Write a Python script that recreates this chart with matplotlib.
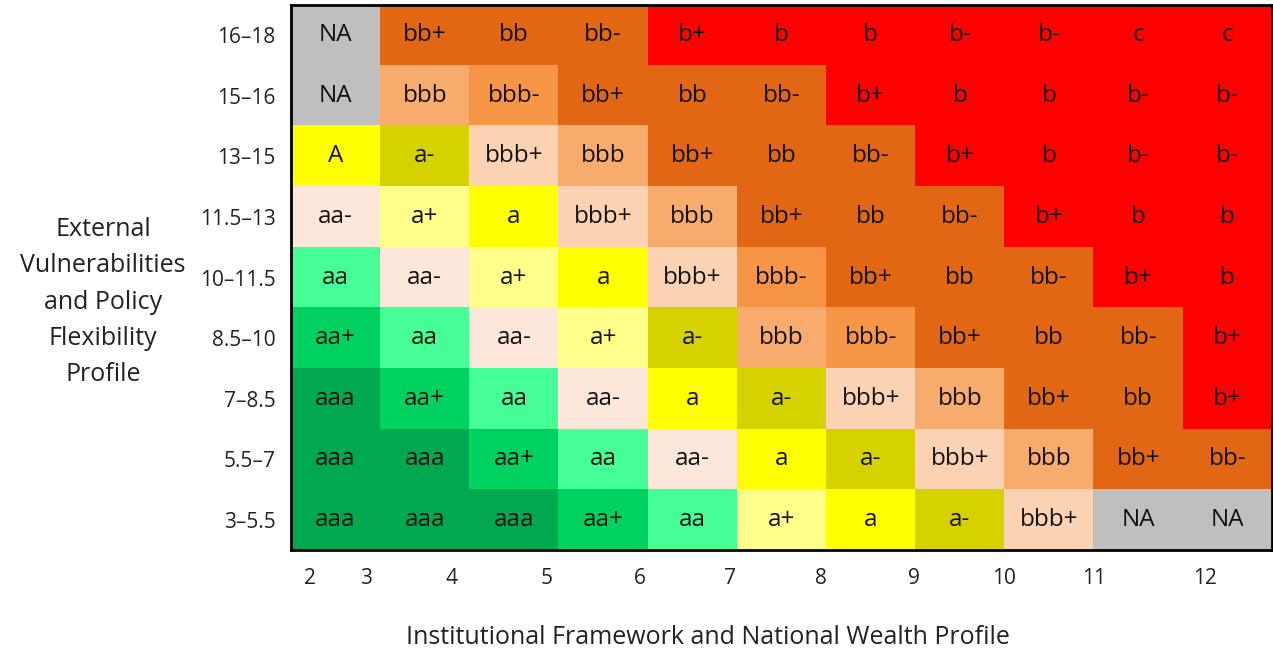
import numpy as np
import matplotlib
matplotlib.use("Agg")
import matplotlib.pyplot as plt
from matplotlib.colors import to_rgb

plt.rcParams['font.family'] = ['Open Sans', 'DejaVu Sans']

# rows from top (highest vulnerability) to bottom
row_labels = ['16–18', '15–16', '13–15', '11.5–13', '10–11.5',
              '8.5–10', '7–8.5', '5.5–7', '3–5.5']
x_tick_labels = ['2', '3', '4', '5', '6', '7', '8', '9', '10', '11', '12']
x_tick_pos = [0.21, 0.84, 1.80, 2.87, 3.91, 4.92, 5.94, 6.98, 7.99, 9.00, 10.25]

grades = [
    ['NA', 'bb+', 'bb', 'bb-', 'b+', 'b', 'b', 'b-', 'b-', 'c', 'c'],
    ['NA', 'bbb', 'bbb-', 'bb+', 'bb', 'bb-', 'b+', 'b', 'b', 'b-', 'b-'],
    ['A', 'a-', 'bbb+', 'bbb', 'bb+', 'bb', 'bb-', 'b+', 'b', 'b-', 'b-'],
    ['aa-', 'a+', 'a', 'bbb+', 'bbb', 'bb+', 'bb', 'bb-', 'b+', 'b', 'b'],
    ['aa', 'aa-', 'a+', 'a', 'bbb+', 'bbb-', 'bb+', 'bb', 'bb-', 'b+', 'b'],
    ['aa+', 'aa', 'aa-', 'a+', 'a-', 'bbb', 'bbb-', 'bb+', 'bb', 'bb-', 'b+'],
    ['aaa', 'aa+', 'aa', 'aa-', 'a', 'a-', 'bbb+', 'bbb', 'bb+', 'bb', 'b+'],
    ['aaa', 'aaa', 'aa+', 'aa', 'aa-', 'a', 'a-', 'bbb+', 'bbb', 'bb+', 'bb-'],
    ['aaa', 'aaa', 'aaa', 'aa+', 'aa', 'a+', 'a', 'a-', 'bbb+', 'NA', 'NA'],
]

grade_colors = {
    'aaa': '#00A84F', 'aa+': '#00D25F', 'aa': '#45FF96', 'aa-': '#FCE7DA',
    'a+': '#FFFF8A', 'a': '#FFFF00', 'A': '#FFFF00', 'a-': '#D6D200',
    'bbb+': '#FBD3B3', 'bbb': '#F7AC6E', 'bbb-': '#F79547',
    'bb+': '#E16714', 'bb': '#E16714', 'bb-': '#E16714',
    'b+': '#FF0000', 'b': '#FF0000', 'b-': '#FF0000', 'c': '#FF0000',
    'NA': '#BFBFBF',
}

nrows, ncols = len(grades), len(grades[0])
img = np.array([[to_rgb(grade_colors[g]) for g in row] for row in grades])

fig = plt.figure(figsize=(12.73, 6.51), dpi=100)
ax = fig.add_axes([0.2286, 0.1551, 0.7706, 0.8372])
ax.imshow(img, extent=(0, ncols, nrows, 0), aspect='auto', interpolation='nearest')

for r in range(nrows):
    for c in range(ncols):
        ax.text(c + 0.5, r + 0.5, grades[r][c], ha='center', va='center',
                fontsize=17.5, color='#111111')

ax.set_xlim(0, ncols)
ax.set_ylim(nrows, 0)
ax.set_yticks(np.arange(nrows) + 0.5)
ax.set_yticklabels(row_labels, fontsize=15, color='#222222')
ax.set_xticks(x_tick_pos)
ax.set_xticklabels(x_tick_labels, fontsize=15, color='#222222')
ax.tick_params(axis='y', length=0, pad=11)
ax.tick_params(axis='x', length=0, pad=13)
for s in ax.spines.values():
    s.set_linewidth(2)
    s.set_color('black')

fig.text(708 / 1273, 1 - 637 / 651, 'Institutional Framework and National Wealth Profile',
         ha='center', va='center', fontsize=18, color='#222222')
fig.text(103 / 1273, 1 - 302 / 651,
         'External\nVulnerabilities\nand Policy\nFlexibility\nProfile',
         ha='center', va='center', fontsize=18, color='#222222', linespacing=1.6)

fig.savefig('out.png', dpi=100)
